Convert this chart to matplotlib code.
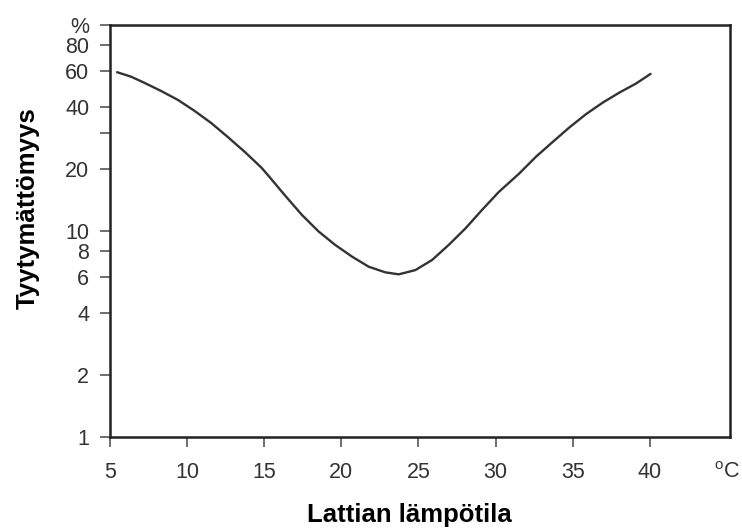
import matplotlib
matplotlib.use("Agg")
import matplotlib.pyplot as plt

plt.rcParams['font.family'] = ['Liberation Sans', 'DejaVu Sans']

# Curve (floor temperature °C vs dissatisfied %)
temp = [5.46, 6.37, 7.23, 8.32, 9.40, 10.48, 11.57, 12.66, 13.74, 14.82,
        15.26, 16.34, 17.43, 18.51, 19.59, 20.68, 21.77, 22.85, 23.72, 24.80,
        25.88, 26.97, 28.05, 29.14, 30.22, 31.53, 32.61, 33.69, 34.78, 35.86,
        36.95, 38.03, 39.11, 40.05]
dissat = [59.0, 56.1, 52.4, 47.8, 43.3, 38.3, 33.4, 28.5, 24.2, 20.3,
          18.6, 14.9, 12.0, 9.97, 8.57, 7.52, 6.71, 6.30, 6.16, 6.46,
          7.23, 8.57, 10.3, 12.7, 15.5, 19.0, 22.9, 27.0, 31.8, 36.9,
          42.0, 47.0, 52.0, 57.9]

xticks = [5, 10, 15, 20, 25, 30, 35, 40, 45]
xticklabels = ['5', '10', '15', '20', '25', '30', '35', '40', '$\\mathregular{^o}$C']
yticks = [1, 2, 4, 6, 8, 10, 20, 30, 40, 60, 80, 100]
yticklabels = ['1', '2', '4', '6', '8', '10', '20', '', '40', '60', '80', '%']

fig = plt.figure(figsize=(7.42, 5.28), dpi=100)
ax = fig.add_axes([110/742, 1-437/528, 620/742, 412/528])

ax.plot(temp, dissat, color='#333333', lw=1.7, solid_capstyle='round',
        solid_joinstyle='round')

ax.set_yscale('log')
ax.set_xlim(5, 45.2)
ax.set_ylim(1, 100)
ax.set_xticks(xticks)
ax.set_xticklabels(xticklabels)
ax.set_yticks(yticks)
ax.set_yticklabels(yticklabels)
ax.yaxis.set_minor_locator(matplotlib.ticker.NullLocator())
ax.tick_params(axis='both', direction='out', length=7, width=1.2, color='#555555',
               labelsize=15.5, labelcolor='#333333')
ax.tick_params(axis='y', pad=8)
ax.tick_params(axis='x', pad=11)
ax.xaxis.get_major_ticks()[-1].tick1line.set_visible(False)

for s in ax.spines.values():
    s.set_linewidth(1.8)
    s.set_color('#222222')

fig.text(409/742, 1-522/528, 'Lattian lämpötila', ha='center', va='baseline',
         fontsize=18.5, fontweight='bold')
fig.text(35/742, 1-208/528, 'Tyytymättömyys', ha='center', va='baseline',
         rotation=90, rotation_mode='anchor', fontsize=18.5, fontweight='bold')

fig.savefig('out.png', dpi=100)
